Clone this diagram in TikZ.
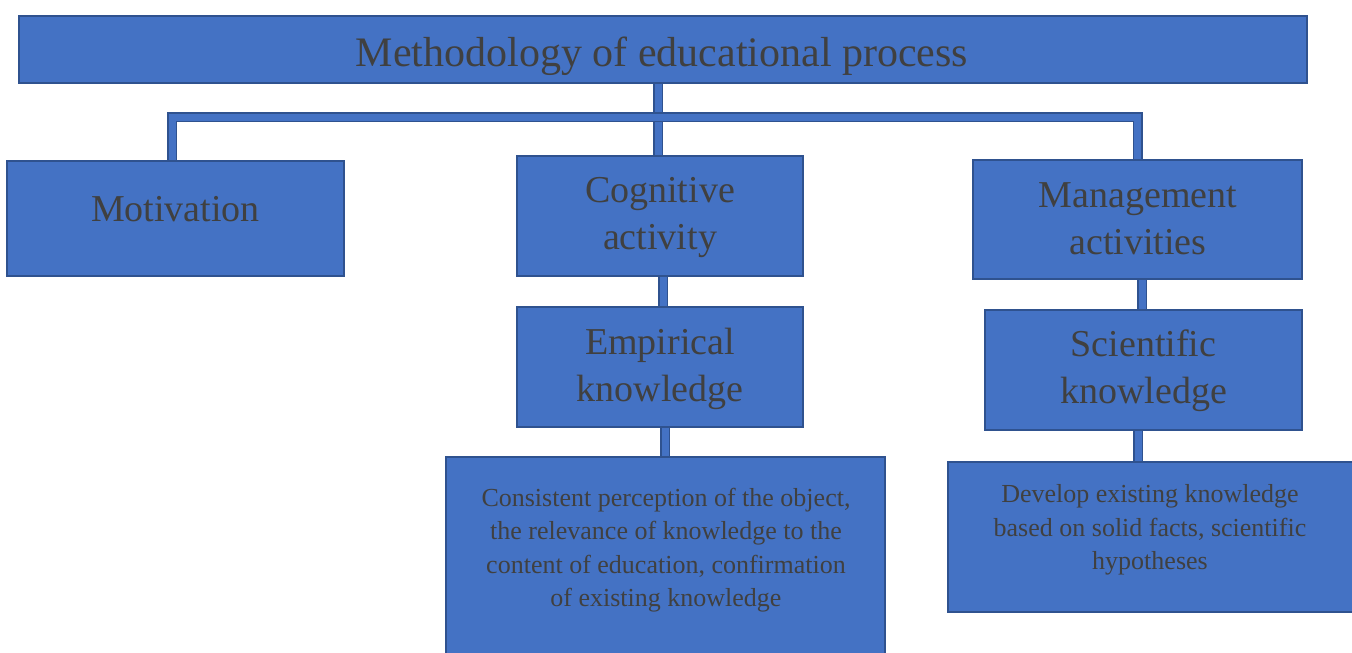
\documentclass[tikz,border=0pt]{standalone}
\usepackage{fontspec}
\setmainfont{Liberation Serif}
\usetikzlibrary{positioning, backgrounds}

\definecolor{boxblue}{HTML}{4472C4}
\definecolor{boxedge}{HTML}{2F528F}
\definecolor{inkgray}{HTML}{404040}

\tikzset{
    box/.style={fill=boxblue, draw=boxedge, line width=1.5pt, inner sep=0pt},
    bigtxt/.style={text=inkgray, align=center, inner sep=0pt, font=\fontsize{38}{47}\selectfont},
    smalltxt/.style={text=inkgray, align=center, inner sep=0pt, font=\fontsize{26}{33.5}\selectfont},
    bar/.style={draw=boxedge, line width=1.5pt, double=boxblue, double distance=7pt, line join=miter}
}

\begin{document}
\begin{tikzpicture}[x=1pt, y=-1pt]
    \useasboundingbox (0,0) rectangle (1352,653);
    \clip (0,0) rectangle (1352,653);

    % boxes (empty, text is set on top)
    \node[box, minimum width=1288pt, minimum height=67pt] (title) at (663,49.5) {};
    \node[box, minimum width=337pt, minimum height=115pt] (motiv) at (175.5,218.5) {};
    \node[box, minimum width=286pt, minimum height=120pt] (cog) at (660,216) {};
    \node[box, minimum width=329pt, minimum height=119pt] (mgmt) at (1137.5,219.5) {};
    \node[box, minimum width=286pt, minimum height=120pt] (emp) at (660,367) {};
    \node[box, minimum width=317pt, minimum height=120pt] (sci) at (1143.5,370) {};
    \node[box, minimum width=439pt, minimum height=243pt] (cons) at (665.5,578.5) {};
    \node[box, minimum width=406pt, minimum height=150pt] (dev) at (1151,537) {};

    % the rail that the first row hangs from
    \coordinate (railL) at ([xshift=-3.5pt]motiv.north |- 0,117);
    \coordinate (railR) at (mgmt.north |- 0,117);

    % connecting bars, behind the boxes
    \begin{scope}[on background layer]
        \draw[bar] ([xshift=-2pt]cog.north |- title.south) -- ([xshift=-2pt]cog.north);
        \draw[bar] ([xshift=-3.5pt]motiv.north) -- (railL) -- (railR) -- (mgmt.north);
        \draw[bar] ([xshift=3pt]cog.south) -- ([xshift=3pt]emp.north);
        \draw[bar] ([xshift=5pt]emp.south) -- ([xshift=5pt]emp.south |- cons.north);
        \draw[bar] ([xshift=4.5pt]mgmt.south) -- ([xshift=4.5pt]mgmt.south |- sci.north);
        \draw[bar] ([xshift=-5.5pt]sci.south) -- ([xshift=-5.5pt]sci.south |- dev.north);
    \end{scope}

    % labels
    \node[text=inkgray, inner sep=0pt, font=\fontsize{42}{50}\selectfont] (titletext) at (662,56) {Methodology of educational process};
    \node[bigtxt] (motivtext) at (175.5,209) {Motivation};
    \node[bigtxt] (cogtext) at (660,218) {Cognitive\\activity};
    \node[bigtxt] (mgmttext) at (1138,219) {Management\\activities};
    \node[bigtxt] (emptext) at (660,369) {Empirical\\knowledge};
    \node[bigtxt] (scitext) at (1143.5,371) {Scientific\\knowledge};
    \node[smalltxt] (constext) at (666,550) {Consistent perception of the object,\\the relevance of knowledge to the\\content of education, confirmation\\of existing knowledge};
    \node[smalltxt] (devtext) at (1150,530) {Develop existing knowledge\\based on solid facts, scientific\\hypotheses};
\end{tikzpicture}
\end{document}
